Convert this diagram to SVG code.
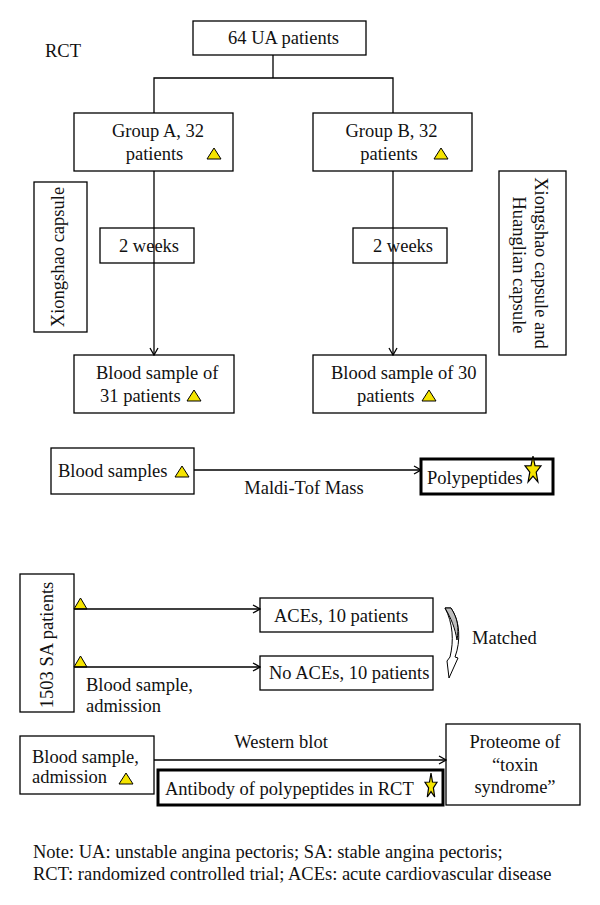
<svg xmlns="http://www.w3.org/2000/svg" width="600" height="905" viewBox="0 0 600 905">
<defs>
<style>
.box{fill:#fff;stroke:#000;stroke-width:1.3}
.thick{fill:#fff;stroke:#000;stroke-width:3}
.t{font-family:"Liberation Serif","Times New Roman",serif;font-size:18.5px;fill:#111}
.m{text-anchor:middle}
.conn{stroke:#000;stroke-width:1.3;fill:none}
.tri{fill:#f5e400;stroke:#000;stroke-width:1}
.star{fill:#f5e400;stroke:#000;stroke-width:1.2}
</style>
<marker id="arr" markerWidth="10" markerHeight="10" refX="9" refY="5" orient="auto" markerUnits="userSpaceOnUse">
<path d="M2,1 L9,5 L2,9" fill="none" stroke="#000" stroke-width="1.3"/>
</marker>
</defs>
<rect width="600" height="905" fill="#fff"/>

<text class="t" x="45" y="57">RCT</text>

<g id="ua">
<rect class="box" x="193" y="21" width="173" height="34"/>
<text class="t m" x="283.5" y="44">64 UA patients</text>
</g>

<g id="groupA">
<rect class="box" x="74" y="113" width="159" height="58"/>
<text class="t m" x="158" y="137">Group A, 32</text>
<text class="t m" x="154.5" y="160">patients</text>
<polygon class="tri" points="207,159 221,159 214,148"/>
</g>

<g id="groupB">
<rect class="box" x="313" y="113" width="159" height="58"/>
<text class="t m" x="391.5" y="137">Group B, 32</text>
<text class="t m" x="389" y="160">patients</text>
<polygon class="tri" points="434,159 448,159 441,148"/>
</g>

<g id="xiongshao">
<rect class="box" x="34" y="182" width="53" height="150"/>
<text class="t m" transform="translate(64,257) rotate(-90)">Xiongshao capsule</text>
</g>

<g id="xiongshaoHuanglian">
<rect class="box" x="499" y="171" width="67" height="184"/>
<text class="t m" transform="translate(535,263) rotate(90)">Xiongshao capsule and</text>
<text class="t m" transform="translate(513,265) rotate(90)">Huanglian capsule</text>
</g>

<g id="weeksA">
<rect class="box" x="100" y="228" width="94" height="35"/>
<text class="t m" x="149" y="252">2 weeks</text>
</g>

<g id="weeksB">
<rect class="box" x="353" y="228" width="94" height="35"/>
<text class="t m" x="403" y="252">2 weeks</text>
</g>

<g id="bloodA">
<rect class="box" x="74" y="355" width="160" height="58"/>
<text class="t" x="96" y="379">Blood sample of</text>
<text class="t" x="100" y="402">31 patients</text>
<polygon class="tri" points="187,401 201,401 194,390"/>
</g>

<g id="bloodB">
<rect class="box" x="313" y="355" width="173" height="58"/>
<text class="t" x="331" y="379">Blood sample of 30</text>
<text class="t" x="357" y="402">patients</text>
<polygon class="tri" points="422,401 436,401 429,390"/>
</g>

<g id="bloodSamples">
<rect class="box" x="51" y="448" width="143" height="46"/>
<text class="t" x="58" y="477">Blood samples</text>
<polygon class="tri" points="175,477 189,477 182,466"/>
</g>

<g id="polypeptides">
<rect class="thick" x="421" y="459" width="132" height="35"/>
<text class="t" x="427" y="484">Polypeptides</text>
<polygon class="star" points="533,456 535,465.7 541,465.9 536.2,472.2 537.9,482 533,476.1 528.1,482 529.8,472.2 525,465.9 531,465.7"/>
</g>

<g id="sa">
<rect class="box" x="20" y="574" width="54" height="138"/>
<text class="t m" transform="translate(53,645) rotate(-90)">1503 SA patients</text>
<polygon class="tri" points="74,609 87,609 80.5,598"/>
<polygon class="tri" points="74,667 87,667 80.5,656"/>
</g>

<g id="aces">
<rect class="box" x="260" y="598" width="173" height="34"/>
<text class="t" x="274" y="622">ACEs, 10 patients</text>
</g>

<g id="noaces">
<rect class="box" x="260" y="656" width="173" height="34"/>
<text class="t" x="269" y="679">No ACEs, 10 patients</text>
</g>

<g id="matched">
<path d="M445,608 L451,608 C460,621 461,641 455,657 L458,658 L449,678 L447,661 L450,657 C454,641 453,623 445,608 Z" fill="#fff" stroke="#000" stroke-width="1"/>
<path d="M445,608 L451,608 C458,619 459,628 457,640 C455,628 451,618 445,608 Z" fill="#bdbdbd" stroke="#000" stroke-width="1"/>
<text class="t" x="472" y="644">Matched</text>
</g>

<g id="bloodAdm">
<rect class="box" x="20" y="736" width="134" height="58"/>
<text class="t" x="32" y="763">Blood sample,</text>
<text class="t" x="32" y="783">admission</text>
<polygon class="tri" points="119,784 133,784 126,773"/>
</g>

<g id="antibody">
<rect class="thick" x="158" y="770" width="285" height="35"/>
<text class="t" x="165" y="795">Antibody of polypeptides in RCT</text>
<polygon class="star" points="431,773 432.5,782 437,782.2 433.4,787.9 434.7,797 431,791.6 427.3,797 428.6,787.9 425,782.2 429.5,782"/>
</g>

<g id="proteome">
<rect class="box" x="446" y="724" width="134" height="81"/>
<text class="t m" x="515" y="748">Proteome of</text>
<text class="t m" x="515" y="771">“toxin</text>
<text class="t m" x="515" y="793">syndrome”</text>
</g>

<g id="connectors">
<path class="conn" d="M273,55 V78 M154,113 V78 H393 V113"/>
<path class="conn" d="M154,171 V355" marker-end="url(#arr)"/>
<path class="conn" d="M393,171 V355" marker-end="url(#arr)"/>
<path class="conn" d="M194,470 H421" marker-end="url(#arr)"/>
<path class="conn" d="M74,609 H260" marker-end="url(#arr)"/>
<path class="conn" d="M74,667 H260" marker-end="url(#arr)"/>
<path class="conn" d="M154,760 H446" marker-end="url(#arr)"/>
</g>

<g id="labels">
<text class="t m" x="304" y="494">Maldi-Tof Mass</text>
<text class="t" x="86" y="691">Blood sample,</text>
<text class="t" x="86" y="712">admission</text>
<text class="t m" x="281" y="748">Western blot</text>
<text class="t" x="33" y="858">Note: UA: unstable angina pectoris; SA: stable angina pectoris;</text>
<text class="t" x="33" y="880">RCT: randomized controlled trial; ACEs: acute cardiovascular disease</text>
</g>
</svg>
